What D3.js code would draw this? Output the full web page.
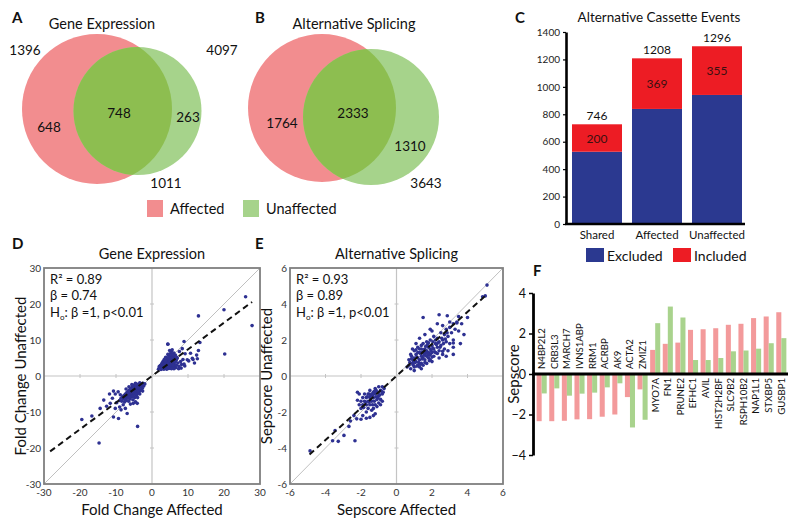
<!DOCTYPE html>
<html><head><meta charset="utf-8">
<script src="https://cdn.jsdelivr.net/npm/d3@7"></script>
<style>body{margin:0;background:#fff}svg{display:block}text{font-family:Lato,sans-serif;fill:#111}</style>
</head><body>
<svg id="c" width="800" height="531"></svg>
<script>
// ---------------- DATA ----------------
const vennGE = {title:"Gene Expression", totalAffected:1396, onlyAffected:648, shared:748, onlyUnaffected:263, totalUnaffected:1011};
const vennAS = {title:"Alternative Splicing", totalAffected:4097, onlyAffected:1764, shared:2333, onlyUnaffected:1310, totalUnaffected:3643};
const vennLegend = ["Affected","Unaffected"];

const cassetteCats = ["Shared","Affected","Unaffected"];
const cassetteExcluded = [527, 839, 941];
const cassetteIncluded = [200, 369, 355];
const cassetteTotals = [746, 1208, 1296];
const cassetteTicks = [0,200,400,600,800,1000,1200,1400];
const cassetteLegend = ["Excluded","Included"];

const genes = ["N4BP2L2","CRB3L3","MARCH7","IVNS1ABP","RRM1","ACRBP","AK9","ACTA2","ZMIZ1","MYO7A","FN1","PRUNE2","EFHC1","AVIL","HIST2H2BF","SLC9B2","RSPH10B2","NAP1L1","STXBP5","GUSBP1"];
const sepAffected   = [-2.33,-2.33,-2.31,-2.24,-2.23,-2.11,-2.00,-1.14,-0.76, 1.19,1.49,1.55,2.18,2.21,2.26,2.43,2.48,2.76,2.84,3.05];
const sepUnaffected = [-0.96,-0.71,-1.07,-0.97,-0.92,-0.66,-0.46,-2.64,-2.26, 2.51,3.33,2.79,0.69,0.69,0.79,1.12,1.16,1.25,1.52,1.77];
const sepTicks = [-4,-2,0,2,4];

const geTicks = [-30,-20,-10,0,10,20,30];
const geStats = {r2:"0.89", beta:"0.74", slope:0.74, xFrom:-28.3, xTo:27.8};
const gePoints = [
[1.8,1.9],[2.2,2.3],[2.5,1.8],[2.6,2.8],[2.9,2.2],[3.0,3.3],[3.2,2.6],[3.3,1.9],[3.5,3.0],[3.6,3.8],[3.7,2.3],[3.9,3.4],[4.0,4.3],[4.1,2.7],[4.2,3.8],[4.3,5.0],[4.4,2.2],[4.5,3.2],[4.6,4.4],[4.7,5.6],[4.8,2.8],[4.9,3.8],[5.0,4.8],[5.0,6.2],[5.1,2.3],[5.2,3.4],[5.3,4.2],[5.3,5.4],[5.4,6.8],[5.5,2.9],[5.6,3.8],[5.7,4.8],[5.7,6.0],[5.8,2.4],[5.9,5.4],[6.0,3.3],[6.0,4.3],[6.1,6.4],[6.2,2.7],[6.3,5.0],[6.4,3.8],[6.5,5.8],[6.6,2.3],[6.7,4.4],[6.8,3.0],[3.1,4.1],[2.8,3.6],[3.4,4.6],[3.8,5.2],[4.4,6.0],[4.9,7.1],[4.4,8.8],[5.6,7.3],[2.3,2.9],[2.0,2.6],[2.7,2.0],[3.5,2.2],[4.1,1.9],[4.7,2.1],[5.4,2.0],[6.1,2.0],[3.9,3.0],[4.6,3.6],[5.1,4.0],[5.6,4.4],[6.2,4.6],[4.2,4.6],[4.8,5.2],[5.4,5.8],[3.6,3.4],[2.6,3.2],[6.9,5.2],[7.2,3.6],[7.5,2.6],
[3.3,2.4],[3.8,2.8],[4.3,3.4],[4.6,2.5],[5.0,3.0],[5.4,3.6],[5.2,4.8],[5.8,4.0],[6.1,3.6],[4.9,4.3],[4.5,4.9],[5.5,5.0],[5.9,5.8],[3.2,3.0],[2.5,2.4],[3.7,4.2],[6.4,4.2],[5.8,3.0],
[7.95,4.0],[7.0,4.9],[9.1,2.8],[8.9,3.3],[9.8,4.5],[11.2,4.9],[12.4,5.8],[10.7,6.3],[12.9,7.1],[8.2,3.2],[8.6,4.6],[8.1,2.2],[10.2,4.2],[11.4,4.6],[11.8,3.6],[12.6,4.8],[13.3,9.3],[8.9,9.6],[7.6,6.8],[8.4,7.6],[9.2,6.2],[7.4,2.0],[4.4,8.9],
[12.9,16.7],[20.0,18.4],[26.0,22.0],[27.8,14.0],[20.2,6.1],
[-2.0,-2.2],[-2.3,-2.8],[-2.5,-2.0],[-2.7,-3.4],[-2.9,-2.5],[-3.0,-3.9],[-3.2,-2.2],[-3.3,-3.0],[-3.5,-4.3],[-3.6,-2.6],[-3.7,-3.5],[-3.9,-4.8],[-4.0,-2.3],[-4.1,-3.2],[-4.2,-4.0],[-4.3,-5.4],[-4.4,-2.8],[-4.6,-3.6],[-4.7,-4.6],[-4.8,-6.0],[-4.9,-2.5],[-5.0,-3.2],[-5.1,-4.2],[-5.2,-5.2],[-5.3,-6.6],[-5.4,-2.9],[-5.5,-3.8],[-5.6,-4.7],[-5.7,-5.8],[-5.8,-3.4],[-5.9,-4.3],[-6.0,-5.2],[-6.1,-6.4],[-6.2,-3.8],[-6.3,-4.8],[-6.4,-5.7],[-6.5,-7.0],[-6.6,-4.2],[-6.7,-5.3],[-6.8,-6.2],[-7.0,-4.6],[-7.1,-5.6],[-7.2,-6.8],[-7.4,-5.0],[-7.5,-6.0],[-7.6,-7.2],[-7.8,-5.4],[-8.0,-6.4],[-8.2,-5.8],[-8.4,-7.0],[-8.6,-6.2],[-8.8,-5.2],[-9.0,-6.8],[-3.4,-1.9],[-4.6,-2.0],[-5.6,-2.4],[-6.4,-3.0],[-7.2,-3.6],[-2.6,-4.2],[-3.4,-5.0],[-4.0,-6.0],[-4.6,-7.2],[-5.2,-7.6],[-6.0,-7.8],[-3.8,-3.8],[-4.4,-4.4],[-5.0,-5.0],[-5.6,-5.4],[-6.2,-5.8],[-4.8,-3.9],[-5.4,-4.4],[-6.0,-4.8],[-3.0,-3.0],[-2.4,-2.4],
[-3.1,-2.6],[-3.6,-3.1],[-4.2,-3.5],[-4.5,-2.4],[-5.2,-3.6],[-5.6,-4.2],[-6.2,-4.4],[-6.6,-5.0],[-5.4,-5.6],[-4.9,-4.9],[-4.4,-5.0],[-3.9,-4.2],[-7.0,-5.2],[-7.6,-6.4],[-5.9,-3.6],[-2.8,-2.2],
[-9.4,-4.4],[-10.2,-5.0],[-10.7,-4.2],[-11.8,-5.0],[-9.8,-7.4],[-11.6,-7.6],[-13.4,-6.7],[-10.2,-9.0],[-9.0,-8.6],[-8.0,-8.0],[-12.6,-8.4],[-14.4,-9.0],[-10.7,-11.4],[-9.3,-11.8],[-6.9,-10.4],[-4.1,-7.6],[-8.6,-9.4],[-7.4,-9.0],[-11.0,-6.2],
[-4.0,-14.0],[-14.7,-18.6],[-19.5,-12.1],[-16.7,-11.1]
];

const asTicks = [-6,-4,-2,0,2,4,6];
const asStats = {r2:"0.93", beta:"0.89", slope:0.89, xFrom:-4.9, xTo:5.05};
const asPoints = [
[0.6,0.5],[0.7,0.9],[0.8,0.4],[0.8,1.2],[0.9,0.7],[1.0,1.0],[1.0,0.5],[1.0,1.4],[1.1,0.8],[1.1,1.2],[1.2,0.6],[1.2,1.0],[1.2,1.6],[1.3,0.9],[1.3,1.3],[1.3,0.5],[1.4,1.1],[1.4,1.5],[1.4,0.7],[1.5,1.0],[1.5,1.3],[1.5,1.8],[1.5,0.6],[1.6,0.9],[1.6,1.2],[1.6,1.5],[1.7,1.1],[1.7,1.4],[1.7,1.9],[1.7,0.7],[1.8,1.0],[1.8,1.3],[1.8,1.6],[1.9,1.2],[1.9,1.5],[1.9,2.0],[1.9,0.9],[2.0,1.3],[2.0,1.7],[2.1,1.1],[2.1,1.5],[2.1,2.2],[2.2,1.8],[2.2,1.3],[2.3,1.6],[2.3,2.1],[2.4,1.4],[2.4,1.9],[2.5,2.4],[2.5,1.7],[2.6,2.0],[2.7,2.3],[2.7,1.5],[2.8,2.6],[2.8,1.9],[2.9,2.2],[3.0,2.7],[3.0,1.8],[3.1,2.4],[3.2,2.9],[3.2,2.0],[3.3,2.6],[3.4,3.0],[3.5,2.5],[2.4,1.0],[2.6,1.2],[2.9,1.4],[3.2,1.6],[3.6,1.8],[3.2,1.2],[1.1,1.8],[1.3,2.1],[1.6,2.3],[1.9,2.6],[2.3,2.9],[2.6,2.8],[1.5,3.25],[2.4,3.4],[2.86,3.35],[4.0,3.25],[3.67,2.9],[3.4,2.95],[3.2,1.83],[2.8,1.1],[2.6,1.37],[4.85,4.4],[5.0,4.45],[5.1,5.05],[3.0,3.0],[2.0,2.5],[0.9,1.5],[0.7,0.6],[1.0,0.3],[1.4,0.4],[2.0,0.8],[3.8,2.3],[3.5,3.3],[1.25,0.75],[1.45,0.95],[1.65,1.35],[1.85,1.15],[2.05,1.55],[2.25,1.75],[1.35,1.25],[1.55,1.45],[1.75,1.75],[0.95,0.85],[1.15,1.05],
[0.75,0.75],[0.85,0.95],[0.95,0.6],[1.05,0.75],[1.15,0.55],[1.2,1.3],[1.3,1.5],[1.35,0.65],[1.45,1.3],[1.55,1.15],[1.6,0.75],[1.65,1.65],[1.75,1.25],[1.8,1.85],[1.85,0.85],[1.95,1.4],[2.0,1.05],[2.05,1.9],[2.15,1.35],[2.2,2.0],[2.3,1.25],[2.35,1.85],[2.45,1.6],[2.55,2.1],[2.65,1.8],[2.75,2.05],[2.85,2.4],[1.4,1.7],[1.1,1.45],[0.85,1.1],
[-0.7,-0.7],[-0.8,-1.0],[-0.8,-0.6],[-0.9,-1.3],[-0.9,-0.8],[-1.0,-1.1],[-1.0,-0.6],[-1.0,-1.5],[-1.1,-0.9],[-1.1,-1.3],[-1.2,-1.0],[-1.2,-1.6],[-1.2,-0.7],[-1.3,-1.2],[-1.3,-0.9],[-1.3,-1.8],[-1.4,-1.4],[-1.4,-1.0],[-1.5,-1.2],[-1.5,-1.6],[-1.5,-0.8],[-1.6,-1.4],[-1.6,-1.0],[-1.6,-1.8],[-1.7,-1.2],[-1.7,-1.6],[-1.8,-1.4],[-1.8,-1.0],[-1.9,-1.6],[-1.9,-1.2],[-2.0,-1.4],[-2.0,-1.8],[-2.1,-1.0],[-2.2,-1.35],[-2.2,-0.9],[-2.1,-1.6],[-1.1,-1.7],[-0.9,-1.6],[-0.8,-1.4],[-1.4,-1.9],[-1.7,-2.0],[-1.05,-1.2],[-1.25,-1.4],[-1.45,-1.1],[-1.15,-0.8],
[-0.85,-0.85],[-0.95,-1.05],[-1.05,-0.9],[-1.15,-1.15],[-1.25,-0.85],[-1.35,-1.05],[-1.45,-1.35],[-1.55,-1.45],[-1.65,-1.15],[-1.75,-1.45],[-1.35,-1.6],[-1.55,-1.0],[-1.85,-1.75],[-0.75,-0.9],
[-1.3,-2.2],[-1.5,-2.3],[-1.7,-2.35],[-1.9,-2.2],[-2.0,-2.4],[-1.2,-2.1],
[-2.24,-2.38],[-2.6,-2.5],[-2.68,-2.8],[-2.96,-3.3],[-2.34,-3.6],[-3.46,-3.03],[-3.28,-3.63],[-3.6,-3.6],[-4.87,-4.16],[-2.4,-2.2]
];

// ---------------- DRAW ----------------
const svg = d3.select("#c");
const RED="#f28d8f", GREEN="#a6d38b", OVER="#8dbe50";

function letter(t,x,y){ svg.append("text").attr("x",x).attr("y",y).attr("font-size",15).attr("font-weight","bold").text(t); }

function venn(v, cfg, id){
  const g = svg.append("g");
  g.append("text").attr("x",cfg.tx).attr("y",29).attr("text-anchor","middle").attr("font-size",14.5).text(v.title);
  g.append("clipPath").attr("id",id).append("circle").attr("cx",cfg.r[0]).attr("cy",cfg.r[1]).attr("r",cfg.r[2]);
  g.append("circle").attr("cx",cfg.r[0]).attr("cy",cfg.r[1]).attr("r",cfg.r[2]).attr("fill",RED);
  g.append("circle").attr("cx",cfg.g[0]).attr("cy",cfg.g[1]).attr("r",cfg.g[2]).attr("fill",GREEN);
  g.append("circle").attr("cx",cfg.g[0]).attr("cy",cfg.g[1]).attr("r",cfg.g[2]).attr("fill",OVER).attr("clip-path",`url(#${id})`);
  const lab=(t,p)=>g.append("text").attr("x",p[0]).attr("y",p[1]).attr("text-anchor","middle").attr("font-size",13.5).text(t);
  lab(v.totalAffected,cfg.p[0]); lab(v.onlyAffected,cfg.p[1]); lab(v.shared,cfg.p[2]); lab(v.onlyUnaffected,cfg.p[3]); lab(v.totalUnaffected,cfg.p[4]);
}
letter("A",12,23); letter("B",255,23); letter("C",515,23); letter("D",12,249); letter("E",255,249); letter("F",533,276);

venn(vennGE,{tx:102,r:[97,109,75],g:[137.5,111,64],p:[[25,55],[49,132],[119,118],[188,122],[166,188]]},"cA");
venn(vennAS,{tx:354,r:[322,108,74],g:[371,117,68],p:[[222,55],[282,128],[353,118],[410,151],[426,188]]},"cB");

// legend A/B
const lg = svg.append("g");
[[147,RED],[243,GREEN]].forEach((d,i)=>{
  lg.append("rect").attr("x",d[0]).attr("y",200).attr("width",16).attr("height",17).attr("fill",d[1]);
  lg.append("text").attr("x",d[0]+23).attr("y",213.5).attr("font-size",14.5).text(vennLegend[i]);
});

// ---------- Panel C ----------
{
  const g = svg.append("g");
  const x = d3.scaleBand().domain(cassetteCats).range([567,747]).paddingInner(1/6).paddingOuter(1/12);
  const y = d3.scaleLinear().domain([0,1400]).range([224,32]);
  g.append("text").attr("x",659).attr("y",22).attr("text-anchor","middle").attr("font-size",13.5).text("Alternative Cassette Events");
  g.selectAll(".ex").data(cassetteCats).join("rect").attr("x",d=>x(d)).attr("width",x.bandwidth())
    .attr("y",(d,i)=>y(cassetteExcluded[i])).attr("height",(d,i)=>y(0)-y(cassetteExcluded[i])).attr("fill","#2b3990");
  g.selectAll(".in").data(cassetteCats).join("rect").attr("x",d=>x(d)).attr("width",x.bandwidth())
    .attr("y",(d,i)=>y(cassetteExcluded[i]+cassetteIncluded[i])).attr("height",(d,i)=>y(0)-y(cassetteIncluded[i])).attr("fill","#ed1c24");
  g.selectAll(".tl").data(cassetteCats).join("text").attr("x",d=>x(d)+x.bandwidth()/2)
    .attr("y",(d,i)=>y(cassetteExcluded[i]+cassetteIncluded[i])-4.5).attr("text-anchor","middle").attr("font-size",12).text((d,i)=>cassetteTotals[i]);
  g.selectAll(".il").data(cassetteCats).join("text").attr("x",d=>x(d)+x.bandwidth()/2)
    .attr("y",(d,i)=>y(cassetteExcluded[i]+cassetteIncluded[i]/2)+4.5).attr("text-anchor","middle").attr("font-size",12).style("fill","#3a1010").text((d,i)=>cassetteIncluded[i]);
  const ya = g.append("g").attr("transform","translate(566,0)").call(d3.axisLeft(y).tickValues(cassetteTicks).tickFormat(d3.format("d")).tickSize(3).tickSizeOuter(0));
  ya.select(".domain").attr("stroke-width",2.6);
  ya.selectAll("text").attr("font-size",10).attr("font-family","Lato").style("fill","#222");
  ya.selectAll(".tick line").attr("stroke-width",1.2);
  g.append("line").attr("x1",565).attr("x2",745).attr("y1",y(0)).attr("y2",y(0)).attr("stroke","#000").attr("stroke-width",2.6);
  g.selectAll(".xl").data(cassetteCats).join("text").attr("x",d=>x(d)+x.bandwidth()/2).attr("y",239).attr("text-anchor","middle").attr("font-size",11.5).text(d=>d);
  [[586,"#2b3990"],[673,"#ed1c24"]].forEach((d,i)=>{
    g.append("rect").attr("x",d[0]).attr("y",248).attr("width",18).attr("height",14).attr("fill",d[1]);
    g.append("text").attr("x",d[0]+21).attr("y",261).attr("font-size",14).text(cassetteLegend[i]);
  });
}

// ---------- Scatter panels ----------
function scatter(cfg){
  const g = svg.append("g");
  const x = d3.scaleLinear().domain(d3.extent(cfg.ticks)).range([cfg.x0,cfg.x1]);
  const y = d3.scaleLinear().domain(d3.extent(cfg.ticks)).range([cfg.y1,cfg.y0]);
  const clip = cfg.id;
  g.append("clipPath").attr("id",clip).append("rect").attr("x",cfg.x0).attr("y",cfg.y0).attr("width",cfg.x1-cfg.x0).attr("height",cfg.y1-cfg.y0);
  g.append("line").attr("x1",x(0)).attr("x2",x(0)).attr("y1",cfg.y0).attr("y2",cfg.y1).attr("stroke","#c4c4c4").attr("stroke-width",1.2);
  g.append("line").attr("y1",y(0)).attr("y2",y(0)).attr("x1",cfg.x0).attr("x2",cfg.x1).attr("stroke","#c4c4c4").attr("stroke-width",1.2);
  const inner = cfg.ticks.filter(t=>t!==0 && t!==cfg.ticks[0] && t!==cfg.ticks[cfg.ticks.length-1]);
  g.selectAll(".mx").data(inner).join("line").attr("x1",d=>x(d)).attr("x2",d=>x(d)).attr("y1",y(0)-2).attr("y2",y(0)+2).attr("stroke","#c4c4c4");
  g.selectAll(".my").data(inner).join("line").attr("y1",d=>y(d)).attr("y2",d=>y(d)).attr("x1",x(0)-2).attr("x2",x(0)+2).attr("stroke","#c4c4c4");
  const d0=cfg.ticks[0], d1=cfg.ticks[cfg.ticks.length-1];
  g.append("line").attr("x1",x(d0)).attr("y1",y(d0)).attr("x2",x(d1)).attr("y2",y(d1)).attr("stroke","#c0c0c0").attr("stroke-width",1).attr("clip-path",`url(#${clip})`);
  g.selectAll(".pt").data(cfg.points).join("circle").attr("cx",d=>x(d[0])).attr("cy",d=>y(d[1])).attr("r",1.8).attr("fill","#2e3192");
  const s=cfg.stats;
  g.append("line").attr("x1",x(s.xFrom)).attr("y1",y(s.xFrom*s.slope)).attr("x2",x(s.xTo)).attr("y2",y(s.xTo*s.slope))
    .attr("stroke","#111").attr("stroke-width",2).attr("stroke-dasharray","6,4");
  g.append("rect").attr("x",cfg.x0).attr("y",cfg.y0).attr("width",cfg.x1-cfg.x0).attr("height",cfg.y1-cfg.y0).attr("fill","none").attr("stroke","#7f7f7f").attr("stroke-width",1.8);
  g.selectAll(".xt").data(cfg.ticks).join("text").attr("x",d=>x(d)).attr("y",cfg.y1+12).attr("text-anchor","middle").attr("font-size",10).style("fill","#333").text(d=>d);
  g.selectAll(".yt").data(cfg.ticks).join("text").attr("x",cfg.x0-3).attr("y",d=>y(d)+3.5).attr("text-anchor","end").attr("font-size",10).style("fill","#333").text(d=>d);
  g.append("text").attr("x",(cfg.x0+cfg.x1)/2).attr("y",cfg.y0-9).attr("text-anchor","middle").attr("font-size",14.5).text(cfg.title);
  g.append("text").attr("x",(cfg.x0+cfg.x1)/2).attr("y",515).attr("text-anchor","middle").attr("font-size",15).text(cfg.xlab);
  g.append("text").attr("transform",`translate(${cfg.ylx},${(cfg.y0+cfg.y1)/2}) rotate(-90)`).attr("text-anchor","middle").attr("font-size",15).text(cfg.ylab);
  const ax=cfg.x0+6;
  g.append("text").attr("x",ax).attr("y",cfg.y0+16).attr("font-size",13).text(`R² = ${s.r2}`);
  g.append("text").attr("x",ax).attr("y",cfg.y0+32).attr("font-size",13).text(`β = ${s.beta}`);
  const h=g.append("text").attr("x",ax).attr("y",cfg.y0+49).attr("font-size",13);
  h.append("tspan").text("H");
  h.append("tspan").attr("font-size",8).attr("dy",3).text("o");
  h.append("tspan").attr("dy",-3).text(": β =1, p<0.01");
}
scatter({id:"clD",ticks:geTicks,points:gePoints,stats:geStats,x0:44,x1:260,y0:268,y1:484,title:"Gene Expression",xlab:"Fold Change Affected",ylab:"Fold Change Unaffected",ylx:26});
scatter({id:"clE",ticks:asTicks,points:asPoints,stats:asStats,x0:290,x1:503,y0:268,y1:484,title:"Alternative Splicing",xlab:"Sepscore Affected",ylab:"Sepscore Unaffected",ylx:272});

// ---------- Panel F ----------
{
  const g = svg.append("g");
  const x0 = d3.scaleBand().domain(genes).range([536,787]).paddingInner(0.2).paddingOuter(0.05);
  const x1 = d3.scaleBand().domain(["a","u"]).range([0,x0.bandwidth()]);
  const y = d3.scaleLinear().domain([-4,4]).range([455,293]);
  const bar=(vals,key,col)=>g.selectAll("."+key).data(genes).join("rect")
    .attr("x",d=>x0(d)+x1(key)).attr("width",x1.bandwidth())
    .attr("y",(d,i)=>y(Math.max(0,vals[i]))).attr("height",(d,i)=>Math.abs(y(vals[i])-y(0))).attr("fill",col);
  bar(sepAffected,"a","#f39a9b");
  bar(sepUnaffected,"u","#a9d38d");
  const ya = g.append("g").attr("transform","translate(533,0)").call(d3.axisLeft(y).tickValues(sepTicks).tickSize(4).tickSizeOuter(0));
  ya.select(".domain").attr("stroke-width",2.8);
  ya.selectAll(".tick line").attr("stroke-width",1.5);
  ya.selectAll("text").attr("font-size",12.5).attr("font-family","Lato").style("fill","#111");
  g.append("line").attr("x1",532).attr("x2",788).attr("y1",y(0)).attr("y2",y(0)).attr("stroke","#000").attr("stroke-width",3);
  g.selectAll(".gl").data(genes).join("text")
    .attr("transform",(d,i)=>{const cx=x0(d)+x0.bandwidth()/2+3.4; const neg=sepAffected[i]<0; return `translate(${cx},${neg?y(0)-5:y(0)+4}) rotate(-90)`;})
    .attr("text-anchor",(d,i)=>sepAffected[i]<0?"start":"end").attr("font-family","Liberation Sans").attr("font-size",9.6).text(d=>d);
  g.append("text").attr("transform",`translate(519,${y(0)}) rotate(-90)`).attr("text-anchor","middle").attr("font-size",15).text("Sepscore");
}
</script>
</body></html>
